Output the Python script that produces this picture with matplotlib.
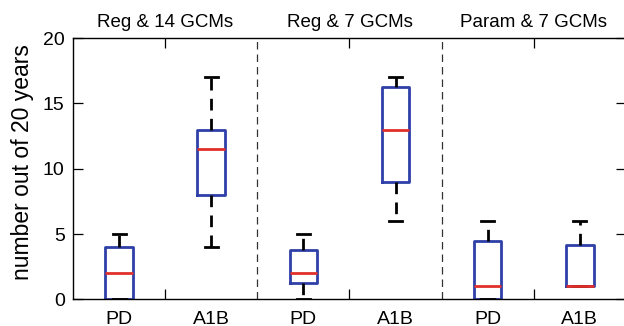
import matplotlib
matplotlib.use("Agg")
import matplotlib.pyplot as plt
import matplotlib.transforms as mtransforms

plt.rcParams['font.family'] = ['Liberation Sans', 'DejaVu Sans']

# one box per (experiment, period)
groups = ["Reg & 14 GCMs", "Reg & 7 GCMs", "Param & 7 GCMs"]
periods = ["PD", "A1B", "PD", "A1B", "PD", "A1B"]
whis_lo = [0, 4, 0, 6, 0, 1]
q1 = [0, 8, 1.25, 9, 0, 1]
median = [2, 11.5, 2, 13, 1, 1]
q3 = [4, 13, 3.8, 16.25, 4.5, 4.2]
whis_hi = [5, 17, 5, 17, 6, 6]

positions = list(range(1, len(periods) + 1))
stats = [dict(whislo=a, q1=b, med=c, q3=d, whishi=e, fliers=[])
         for a, b, c, d, e in zip(whis_lo, q1, median, q3, whis_hi)]

fig = plt.figure(figsize=(6.24, 3.26), dpi=100)
ax = fig.add_axes([0.117, 0.0813, 0.886, 0.802])

blue = '#2f3fa8'
red = '#e0302a'
ax.bxp(stats, positions=positions, widths=0.3, capwidths=0.14,
       showfliers=False,
       boxprops=dict(color=blue, linewidth=2.0),
       medianprops=dict(color=red, linewidth=2.0),
       whiskerprops=dict(color='black', linewidth=2.0, linestyle=(0, (4.2, 3))),
       capprops=dict(color='black', linewidth=2.0))

# separators between experiments
for xs in [2.5, 4.5]:
    ax.axvline(xs, color='#333333', linewidth=0.9, linestyle=(0, (6, 4)))

ax.set_xlim(0.5, 6.5)
ax.set_ylim(0, 20)
ax.set_yticks([0, 5, 10, 15, 20])
ax.set_xticks(positions)
ax.set_xticklabels(periods)
ax.set_xticks([1.5, 3.5, 5.5], minor=True)
ax.tick_params(axis='x', which='major', length=0, pad=8, labelsize=14)
ax.tick_params(axis='x', which='minor', direction='in', length=7,
               top=True, bottom=True, width=0.9)
ax.tick_params(axis='y', direction='in', length=7, left=True, right=True,
               labelsize=14, width=0.9, pad=6)
for s in ax.spines.values():
    s.set_linewidth(1.0)

ax.set_ylabel("number out of 20 years", fontsize=16.5)
ax.yaxis.set_label_coords(-0.07, 0.527)

trans = mtransforms.blended_transform_factory(ax.transData, ax.transAxes)
for i, name in enumerate(groups):
    ax.text(1.5 + 2 * i, 1.028, name, transform=trans, ha='center',
            va='bottom', fontsize=13.5)

fig.savefig("out.png", dpi=100)
